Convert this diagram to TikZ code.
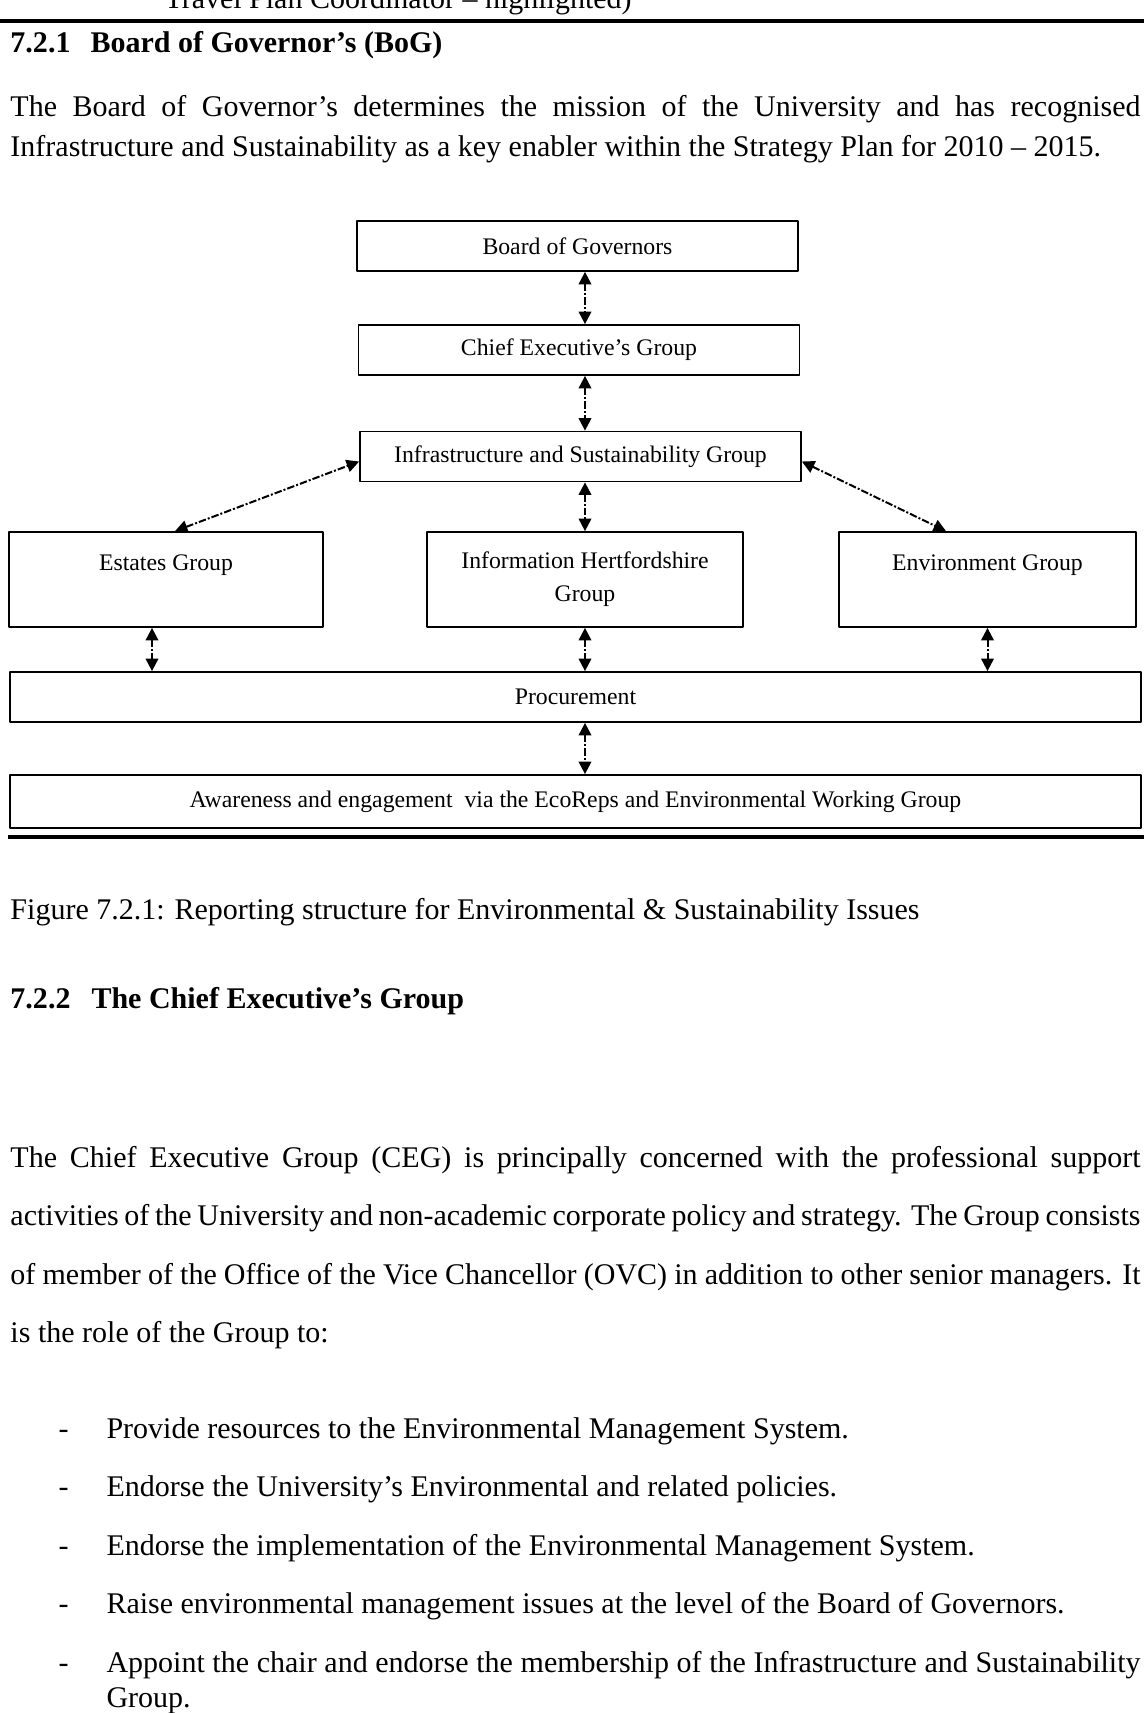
\documentclass[tikz,border=0pt]{standalone}
\usepackage{fontspec}
\setmainfont{Liberation Serif}
\usetikzlibrary{arrows.meta, positioning}

\begin{document}
\begin{tikzpicture}[x=0.4pt, y=-0.4pt, line join=round]
   % Styles
   \tikzset{
    box/.style={draw, line width=0.7pt, inner sep=0pt, align=center,
      font=\fontsize{9.5}{13.2}\selectfont},
    topbox/.style={box, minimum width=176.4pt, minimum height=20pt},
    midbox/.style={box, minimum width=125.6pt, minimum height=38pt},
    widebox/.style={box, minimum width=452.4pt, minimum height=20pt},
    link/.style={line width=0.8pt, dash pattern=on 3pt off 0.8pt on 0.8pt off 0.8pt,
      >={Triangle[length=5pt,width=5pt]}, <->},
    rule/.style={line width=1.5pt},
    body/.style={anchor=base west, inner sep=0pt, font=\fontsize{12}{16}\selectfont},
    head/.style={body, font=\fontsize{12}{16}\selectfont\bfseries},
    para/.style={body, text width=452pt, align=justify, font=\fontsize{12}{23.4}\selectfont},
    item/.style={para, text width=413.6pt, font=\fontsize{12}{14}\selectfont}
   }
  \useasboundingbox (0,0) rectangle (1144,1713);
  % Text above the figure
  \node[body] (prev) at (164,8) {Travel Plan Coordinator -- highlighted)};
  \draw[rule] (0,21) -- (1144,21);
  \node[head] (numa) at (10,52) {7.2.1};
  \node[head] (titlea) at (90,52) {Board of Governor’s (BoG)};
  \node[para, font=\fontsize{12}{16}\selectfont] (intro) at (10,116) {The Board of Governor’s determines the mission of the University and has recognised\linebreak Infrastructure and Sustainability as a key enabler within the Strategy Plan for 2010 -- 2015.};
  % Boxes
  \node[topbox] (bog) at (577.5,246) {Board of Governors};
  \node[topbox] (ceg) at (579,350) {Chief Executive’s Group};
  \node[topbox] (isg) at (580.5,456.5) {Infrastructure and Sustainability Group};
  \node[midbox] (estates) at (166,579.5) {Estates Group\\\mbox{}};
  \node[midbox, minimum width=126.4pt] (ih) at (585,579.5) {Information Hertfordshire\\Group};
  \node[midbox, minimum width=118.8pt] (env) at (987.5,579.5) {Environment Group\\\mbox{}};
  \node[widebox] (proc) at (575.5,697) {Procurement};
  \node[widebox, minimum height=21.2pt] (aware) at (575.5,801.5) {Awareness and engagement~ via the EcoReps and Environmental Working Group};
  % Links
  \draw[link] (ih.north |- bog.south) -- (ih.north |- ceg.north);
  \draw[link] (ih.north |- ceg.south) -- (ih.north |- isg.north);
  \draw[link] (ih.north |- isg.south) -- (ih.north);
  \draw[link] ([xshift=3.6pt]estates.north) -- ([yshift=-2pt]isg.west);
  \draw[link] ([yshift=-2pt]isg.east) -- ([xshift=-16.6pt]env.north);
  \draw[link] ([xshift=-5.6pt]estates.south) -- ([xshift=-5.6pt]estates.south |- proc.north);
  \draw[link] (ih.south) -- (ih.south |- proc.north);
  \draw[link] (env.south) -- (env.south |- proc.north);
  \draw[link] (ih.south |- proc.south) -- (ih.south |- aware.north);
  \draw[rule] (8,837) -- (1144,837);
  % Text below the figure
  \node[body] (caption) at (10,919) {Figure 7.2.1: Reporting structure for Environmental \& Sustainability Issues};
  \node[head] (numb) at (10,1008) {7.2.2};
  \node[head] (titleb) at (91,1008) {The Chief Executive’s Group};
  \node[para] (cegtext) at (10,1167) {The Chief Executive Group (CEG) is principally concerned with the professional support\linebreak activities of the University and non-academic corporate policy and strategy. The Group consists\linebreak of member of the Office of the Vice Chancellor (OVC) in addition to other senior managers. It\linebreak is the role of the Group to:};
  \node[body] (dasha) at (58,1438) {-};
  \node[item] (itema) at (106,1438) {Provide resources to the Environmental Management System.};
  \node[body] (dashb) at (58,1496.5) {-};
  \node[item] (itemb) at (106,1496.5) {Endorse the University’s Environmental and related policies.};
  \node[body] (dashc) at (58,1555) {-};
  \node[item] (itemc) at (106,1555) {Endorse the implementation of the Environmental Management System.};
  \node[body] (dashd) at (58,1613.5) {-};
  \node[item] (itemd) at (106,1613.5) {Raise environmental management issues at the level of the Board of Governors.};
  \node[body] (dashe) at (58,1672) {-};
  \node[item] (iteme) at (106,1672) {Appoint the chair and endorse the membership of the Infrastructure and Sustainability\linebreak Group.};
\end{tikzpicture}
\end{document}
